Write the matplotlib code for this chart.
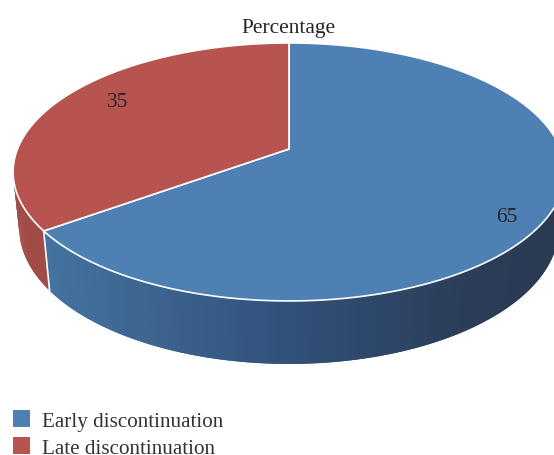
import numpy as np
import matplotlib
matplotlib.use('Agg')
import matplotlib.pyplot as plt
from matplotlib.patches import Polygon, Patch
from matplotlib.colors import to_rgb

plt.rcParams['font.family'] = ['Liberation Serif', 'DejaVu Serif']

labels = ['Early discontinuation', 'Late discontinuation']
values = [65, 35]
top_colors = ['#4e80b3', '#b85450']
title = 'Percentage'

# camera used to flatten the disc onto the picture
CX, CY = 289, 150
AX_X, AX_Y = 271.5, 124.9
TILT = 0.178
DROP, DROP_W = 56.5, 0.022


def project(theta, low=False):
    X = np.cos(theta)
    Y = np.sin(theta)
    w = 1 + TILT * Y + (DROP_W if low else 0)
    h = DROP if low else 0
    return CX + AX_X * X / w, CY - (AX_Y * Y - h) / w


def wall_color(x, i):
    # side wall gets darker towards the right
    if i == 1:
        return to_rgb('#a24c48')
    stops_x = [45, 289, 470, 554]
    stops = np.array([to_rgb(c) for c in ['#44739f', '#31517a', '#2b3d58', '#2a3a52']])
    return [np.interp(x, stops_x, stops[:, k]) for k in range(3)]


fig = plt.figure(figsize=(5.54, 4.56), dpi=100)
ax = fig.add_axes([0, 0, 1, 1])
ax.set_xlim(0, 554)
ax.set_ylim(456, 0)
ax.axis('off')

# slice angles, clockwise from twelve o'clock
edges = np.pi / 2 - 2 * np.pi * np.cumsum([0] + values) / sum(values)

# walls first, each strip runs under the next one so no seams show
for i in range(len(values)):
    t = np.linspace(edges[i], edges[i + 1], 200)
    t = t[np.sin(t) < 0.25]
    for j in range(len(t) - 1):
        seg = t[j:j + 3]
        x1, y1 = project(seg)
        x2, y2 = project(seg[::-1], low=True)
        col = wall_color(x1[:2].mean(), i)
        ax.add_patch(Polygon(np.column_stack([np.r_[x1, x2], np.r_[y1, y2]]),
                             facecolor=col, edgecolor='none', zorder=1))

# white seam where the two walls meet
xs, ys = project(np.array([edges[1]]))
xe, ye = project(np.array([edges[1]]), low=True)
ax.plot([xs[0], xe[0]], [ys[0], ye[0]], color='white', lw=1.2, zorder=2)

# top faces
for i in range(len(values)):
    t = np.linspace(edges[i], edges[i + 1], 300)
    x, y = project(t)
    pts = np.column_stack([np.r_[CX, x], np.r_[CY, y]])
    ax.add_patch(Polygon(pts, closed=True, facecolor=top_colors[i], edgecolor='white',
                         lw=1.2, joinstyle='round', zorder=3))

# value labels
ax.text(507, 218, str(values[0]), fontsize=15.4, color='#262626', ha='center', va='center', zorder=4)
ax.text(118, 103, str(values[1]), fontsize=15.4, color='#262626', ha='center', va='center', zorder=4)

ax.text(288, 28, title, fontsize=15.4, color='#262626', ha='center', va='center')

handles = [Patch(facecolor=c, edgecolor='none') for c in top_colors]
ax.legend(handles, labels, loc='upper left', bbox_to_anchor=(13, 411.5),
          bbox_transform=ax.transData, frameon=False, fontsize=15.2,
          handlelength=0.82, handleheight=0.82, handletextpad=0.55,
          labelspacing=0.3, borderpad=0, borderaxespad=0, labelcolor='#333333')

fig.savefig('out.png', dpi=100)
